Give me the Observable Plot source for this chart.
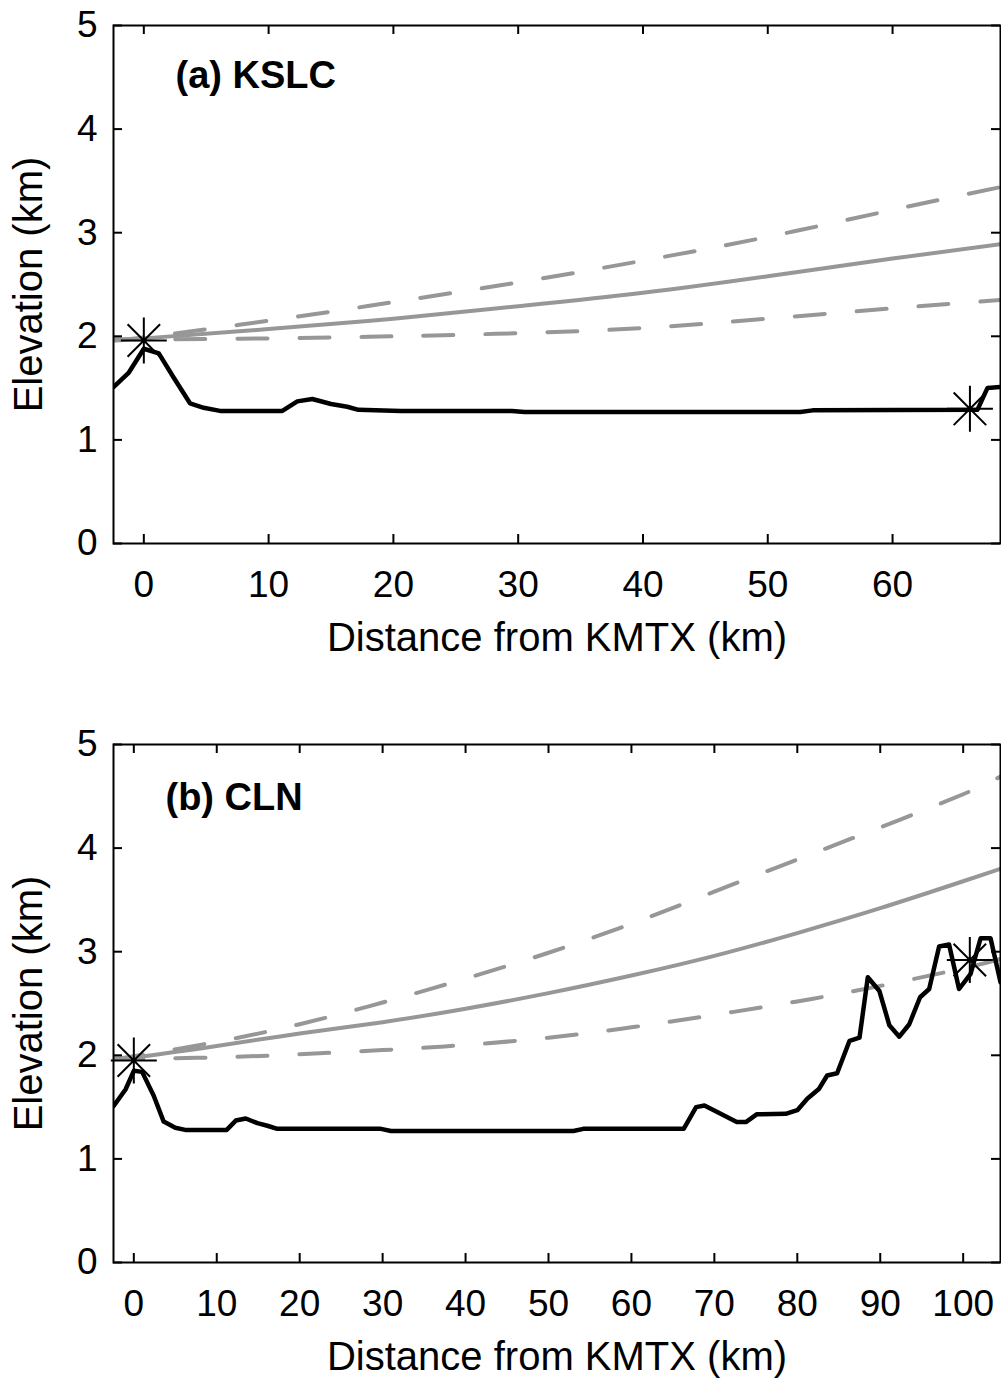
<!DOCTYPE html>
<html>
<head>
<meta charset="utf-8">
<script src="https://cdn.jsdelivr.net/npm/d3@7"></script>
<script src="https://cdn.jsdelivr.net/npm/@observablehq/plot@0.6"></script>
<style>
  html, body { margin: 0; padding: 0; background: #fff; }
  #chart { width: 1001px; }
  #chart svg { display: block; }
</style>
</head>
<body>
<div id="chart"></div>
<script>
// ---------- Panel (a) KSLC ----------
const titleA = "(a) KSLC";
const xDomainA = [-2.43, 68.65];
const xTicksA = [0, 10, 20, 30, 40, 50, 60];
const terrainDistA = [-2.43, -1.2, 0, 1.2, 2.4, 3.7, 4.8, 6.1, 11.1, 12.3, 13.5, 15.0, 16.3, 17.2, 20.6, 29.5, 30.5, 52.6, 53.6, 66.8, 67.6, 68.65];
const terrainElevA = [1.51, 1.65, 1.88, 1.835, 1.60, 1.353, 1.31, 1.28, 1.28, 1.372, 1.395, 1.347, 1.32, 1.29, 1.28, 1.28, 1.27, 1.27, 1.285, 1.29, 1.50, 1.51];
const beamDistA = [-2.43, 0, 10, 20, 30, 40, 50, 60, 68.65];
const beamCenterA = [1.97, 1.98, 2.07, 2.17, 2.29, 2.42, 2.58, 2.75, 2.89];
const beamUpperA = [1.96, 1.99, 2.15, 2.33, 2.52, 2.73, 2.96, 3.22, 3.44];
const beamLowerA = [1.98, 1.97, 1.98, 2.00, 2.03, 2.08, 2.17, 2.27, 2.35];
const starDistA = [0, 66.2];
const starElevA = [1.96, 1.30];

// ---------- Panel (b) CLN ----------
const titleB = "(b) CLN";
const xDomainB = [-2.45, 104.5];
const xTicksB = [0, 10, 20, 30, 40, 50, 60, 70, 80, 90, 100];
const terrainDistB = [-2.45, -1.0, 0, 1.0, 2.4, 3.6, 5.0, 6.2, 11.2, 12.3, 13.5, 14.9, 16.1, 17.3, 29.8, 31.0, 53.0, 54.2, 66.3, 67.8, 68.8, 70.4, 72.7, 73.8, 75.1, 78.6, 80.0, 81.2, 82.6, 83.6, 84.8, 86.3, 87.5, 88.5, 89.9, 91.1, 92.3, 93.5, 94.8, 95.9, 97.1, 98.3, 99.5, 100.9, 102.1, 103.3, 104.5];
const terrainElevB = [1.51, 1.67, 1.85, 1.84, 1.61, 1.36, 1.30, 1.28, 1.28, 1.37, 1.39, 1.345, 1.32, 1.29, 1.29, 1.27, 1.27, 1.29, 1.29, 1.50, 1.515, 1.45, 1.355, 1.355, 1.43, 1.435, 1.47, 1.58, 1.675, 1.805, 1.827, 2.14, 2.17, 2.754, 2.62, 2.29, 2.18, 2.30, 2.56, 2.64, 3.05, 3.07, 2.64, 2.787, 3.13, 3.13, 2.705];
const beamDistB = [-2.45, 0, 10, 20, 30, 40, 50, 60, 70, 80, 90, 100, 104.5];
const beamCenterB = [1.97, 1.98, 2.09, 2.21, 2.32, 2.45, 2.60, 2.77, 2.96, 3.18, 3.42, 3.68, 3.80];
const beamUpperB = [1.96, 1.99, 2.13, 2.30, 2.51, 2.74, 2.99, 3.27, 3.58, 3.89, 4.20, 4.52, 4.69];
const beamLowerB = [1.98, 1.97, 1.98, 2.01, 2.05, 2.10, 2.17, 2.27, 2.39, 2.52, 2.67, 2.84, 2.93];
const starDistB = [0, 100.8];
const starElevB = [1.95, 2.92];

// ---------- Shared ----------
const yDomain = [0, 5];
const yTicks = [0, 1, 2, 3, 4, 5];
const xLabel = "Distance from KMTX (km)";
const yLabel = "Elevation (km)";

const W = 1001, ML = 113, MR = 1;
const plotW = W - ML - MR;
const plotH = 518;
const tickLen = 9;
const gray = "#979797";
const font = "'Liberation Sans', Arial, Helvetica, sans-serif";

// 8-armed asterisk (MATLAB '*' marker)
const star8 = {
  draw(ctx, size) {
    const r = Math.sqrt(size / Math.PI);
    const d = r * Math.SQRT1_2;
    ctx.moveTo(-r, 0); ctx.lineTo(r, 0);
    ctx.moveTo(0, -r); ctx.lineTo(0, r);
    ctx.moveTo(-d, -d); ctx.lineTo(d, d);
    ctx.moveTo(-d, d); ctx.lineTo(d, -d);
  }
};

function zip(xs, ys) { return xs.map((x, i) => ({x, y: ys[i]})); }

function panel(o) {
  const terrain = zip(o.terrainDist, o.terrainElev);
  const center = zip(o.beamDist, o.beamCenter);
  const upper = zip(o.beamDist, o.beamUpper);
  const lower = zip(o.beamDist, o.beamLower);
  const stars = zip(o.starDist, o.starElev);
  return Plot.plot({
    width: W,
    height: o.height,
    marginLeft: ML,
    marginRight: MR,
    marginTop: o.marginTop,
    marginBottom: o.marginBottom,
    style: {fontFamily: font, fontSize: "37px", color: "black", background: "white", overflow: "visible"},
    x: {domain: o.xDomain, label: null},
    y: {domain: yDomain, label: null},
    marks: [
      Plot.line(upper, {x: "x", y: "y", stroke: gray, strokeWidth: 4, strokeDasharray: "30,32", curve: "natural", clip: true}),
      Plot.line(lower, {x: "x", y: "y", stroke: gray, strokeWidth: 4, strokeDasharray: "30,32", curve: "natural", clip: true}),
      Plot.line(center, {x: "x", y: "y", stroke: gray, strokeWidth: 4, curve: "natural", clip: true}),
      Plot.line(terrain, {x: "x", y: "y", stroke: "black", strokeWidth: 4.5, strokeLinejoin: "round", clip: true}),
      Plot.dot(stars, {x: "x", y: "y", symbol: star8, r: 23, stroke: "black", strokeWidth: 2, fill: "none"}),
      // inward ticks on all four sides
      Plot.tickX(o.xTicks, {x: d => d, insetTop: plotH - tickLen, stroke: "black", strokeWidth: 2}),
      Plot.tickX(o.xTicks, {x: d => d, insetBottom: plotH - tickLen, stroke: "black", strokeWidth: 2}),
      Plot.tickY(yTicks, {y: d => d, insetRight: plotW - tickLen, stroke: "black", strokeWidth: 2}),
      Plot.tickY(yTicks, {y: d => d, insetLeft: plotW - tickLen, stroke: "black", strokeWidth: 2}),
      Plot.frame({stroke: "black", strokeWidth: 2}),
      Plot.axisX({ticks: o.xTicks, tickSize: 0, tickPadding: 27, tickFormat: d3.format("d"), label: null, fill: "black"}),
      Plot.axisY({ticks: yTicks, tickSize: 0, tickPadding: 16, tickFormat: d3.format("d"), label: null, fill: "black"}),
      Plot.text([xLabel], {text: d => d, frameAnchor: "bottom", dy: 95, fontSize: 40, textAnchor: "middle", lineAnchor: "middle", fill: "black"}),
      Plot.text([yLabel], {text: d => d, frameAnchor: "left", dx: -84, rotate: -90, fontSize: 40, textAnchor: "middle", lineAnchor: "middle", fill: "black"}),
      Plot.text([o.title], {text: d => d, frameAnchor: "top-left", dx: o.titleDx, dy: o.titleDy, textAnchor: "start", lineAnchor: "middle", fontSize: 38, fontWeight: "bold", fill: "black"})
    ]
  });
}

const chart = document.getElementById("chart");
chart.append(panel({
  height: 680, marginTop: 25, marginBottom: 137,
  xDomain: xDomainA, xTicks: xTicksA,
  terrainDist: terrainDistA, terrainElev: terrainElevA,
  beamDist: beamDistA, beamCenter: beamCenterA, beamUpper: beamUpperA, beamLower: beamLowerA,
  starDist: starDistA, starElev: starElevA,
  title: titleA, titleDx: 62, titleDy: 50
}));
chart.append(panel({
  height: 700, marginTop: 64, marginBottom: 118,
  xDomain: xDomainB, xTicks: xTicksB,
  terrainDist: terrainDistB, terrainElev: terrainElevB,
  beamDist: beamDistB, beamCenter: beamCenterB, beamUpper: beamUpperB, beamLower: beamLowerB,
  starDist: starDistB, starElev: starElevB,
  title: titleB, titleDx: 52, titleDy: 53
}));
</script>
</body>
</html>
